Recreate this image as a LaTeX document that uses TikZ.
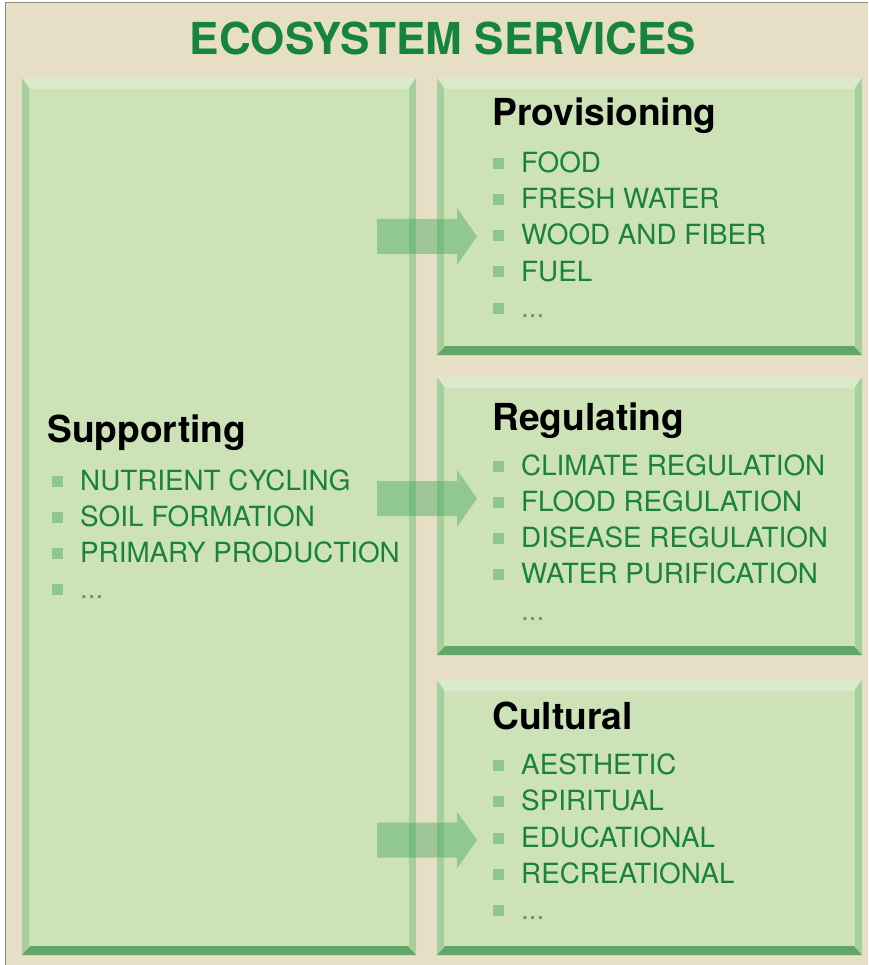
\documentclass[tikz,border=0pt]{standalone}
\usepackage{fontspec}
\setmainfont{TeX Gyre Heros}
\usetikzlibrary{calc}
\definecolor{bgbeige}{HTML}{E6DFC5}
\definecolor{framegray}{HTML}{8A8A80}
\definecolor{boxfill}{HTML}{CDE3B7}
\definecolor{bevtop}{HTML}{DAEACB}
\definecolor{bevside}{HTML}{A6D09B}
\definecolor{bevbot}{HTML}{62A66A}
\definecolor{titlegreen}{HTML}{17843B}
\definecolor{itemgreen}{HTML}{1A823E}
\definecolor{bulletgreen}{HTML}{8FC68B}
\definecolor{dotgray}{HTML}{6F8F6F}
\definecolor{arrowgreen}{HTML}{3FA55A}
\newcommand\bevelbox[5]{%
  \fill[boxfill] (#2,#3) rectangle (#4,#5);
  \fill[bevtop] (#2,#3) -- (#4,#3) -- ({#4-8},{#3+11}) -- ({#2+8},{#3+11}) -- cycle;
  \fill[bevside] (#2,#3) -- ({#2+7},{#3+10}) -- ({#2+7},{#5-9}) -- (#2,#5) -- cycle;
  \fill[bevside] (#4,#3) -- ({#4-7},{#3+10}) -- ({#4-7},{#5-9}) -- (#4,#5) -- cycle;
  \fill[bevbot] (#2,#5) -- ({#2+8},{#5-9}) -- ({#4-8},{#5-9}) -- (#4,#5) -- cycle;
  \node[inner sep=0pt, anchor=north west, minimum width={(#4-#2)*1pt}, minimum height={(#5-#3)*1pt}] (#1) at (#2,#3) {};
}
\newcommand\blockarrow[3]{% name, start coordinate x, y
  \coordinate (#1) at (#2,#3);
  \fill[arrowgreen, fill opacity=0.42]
    ($(#1)+(0,-17.5)$) -- ($(#1)+(80,-17.5)$) -- ($(#1)+(80,-28.5)$) -- ($(#1)+(100,0)$)
    -- ($(#1)+(80,28.5)$) -- ($(#1)+(80,17.5)$) -- ($(#1)+(0,17.5)$) -- cycle;
}
\tikzset{
  heading/.style={anchor=base west, inner sep=0pt, font=\fontsize{37.2}{40}\selectfont\bfseries, text=black},
  itemtext/.style={anchor=base west, inner sep=0pt, font=\fontsize{27.8}{30}\selectfont, text=itemgreen},
  dots/.style={anchor=base west, inner sep=0pt, font=\fontsize{27.8}{30}\selectfont, text=dotgray},
  bullet/.style={fill=bulletgreen, inner sep=0pt, minimum size=11pt, anchor=center},
}
\begin{document}
\begin{tikzpicture}[x=1pt,y=-1pt]
\useasboundingbox (0,0) rectangle (868,965);
\fill[white] (0,0) rectangle (868,965);
\fill[bgbeige] (5,3) rectangle (868,965);
\draw[framegray, line width=1pt] (5,965) -- (5,3) -- (868,3);

\node[anchor=base, inner sep=0pt, font=\fontsize{44}{48}\selectfont\bfseries, text=titlegreen] (title) at (443,55) {ECOSYSTEM SERVICES};

\bevelbox{supp}{22}{78}{416}{955}
\bevelbox{prov}{437}{78}{862}{355}
\bevelbox{regu}{437}{377}{862}{655}
\bevelbox{cult}{437}{680}{862}{955}

% Supporting
\node[heading] (supph) at (47,442) {Supporting};
\foreach \t/\y [count=\i] in {NUTRIENT CYCLING/490, SOIL FORMATION/526, PRIMARY PRODUCTION/562} {
  \node[bullet] (sb\i) at (57.5,\y-9) {};
  \node[itemtext] (st\i) at (80,\y) {\t};
}
\node[bullet] (sb4) at (57.5,589) {};
\node[dots] (st4) at (80,598) {...};

% Provisioning
\node[heading] (provh) at (492,126) {Provisioning};
\foreach \t/\y [count=\i] in {FOOD/173, FRESH WATER/209, WOOD AND FIBER/245, FUEL/281} {
  \node[bullet] (pb\i) at (498,\y-9) {};
  \node[itemtext] (pt\i) at (521,\y) {\t};
}
\node[bullet] (pb5) at (498,308) {};
\node[dots] (pt5) at (521,317) {...};

% Regulating
\node[heading] (reguh) at (492,430) {Regulating};
\foreach \t/\y [count=\i] in {CLIMATE REGULATION/475, FLOOD REGULATION/511, DISEASE REGULATION/547, WATER PURIFICATION/583} {
  \node[bullet] (rb\i) at (498,\y-9) {};
  \node[itemtext] (rt\i) at (521,\y) {\t};
}
\node[dots] (rt5) at (521,620) {...};

% Cultural
\node[heading] (culth) at (492,729) {Cultural};
\foreach \t/\y [count=\i] in {AESTHETIC/774, SPIRITUAL/810, EDUCATIONAL/847, RECREATIONAL/883} {
  \node[bullet] (cb\i) at (498,\y-9) {};
  \node[itemtext] (ct\i) at (521,\y) {\t};
}
\node[bullet] (cb5) at (498,910) {};
\node[dots] (ct5) at (521,919) {...};

% Arrows from Supporting to the three service boxes
\blockarrow{a1}{377}{236.5}
\blockarrow{a2}{377}{498.5}
\blockarrow{a3}{377}{840}
\end{tikzpicture}
\end{document}
